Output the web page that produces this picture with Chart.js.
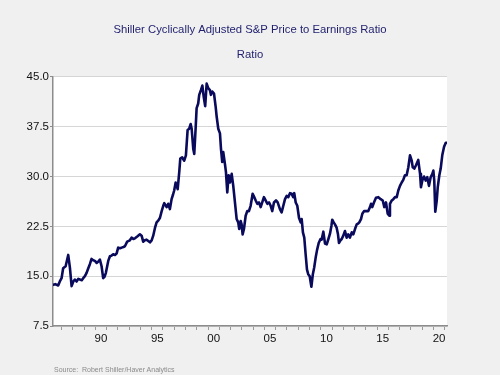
<!DOCTYPE html>
<html><head><meta charset="utf-8">
<script src="https://cdn.jsdelivr.net/npm/chart.js@4.4.1/dist/chart.umd.min.js"></script>
<style>
html,body{margin:0;padding:0;background:#f0f0f0;}
#wrap{position:relative;width:500px;height:375px;}
canvas{display:block;}
#source{position:absolute;left:54px;top:366px;font:7px "Liberation Sans",Arial,sans-serif;color:#8a8a8a;white-space:pre;}
</style></head><body>
<div id="wrap"><canvas id="c" width="500" height="375"></canvas><div id="source">Source:  Robert Shiller/Haver Analytics</div></div>
<script>
const dates = [
1986.25,1986.45,1986.71,1986.88,1987.01,1987.15,1987.37,1987.60,1987.75,1987.90,
1988.05,1988.19,1988.34,1988.50,1988.64,1988.80,1988.93,1989.08,1989.23,1989.38,
1989.52,1989.67,1989.82,1989.97,1990.12,1990.28,1990.41,1990.56,1990.70,1990.82,
1990.94,1991.15,1991.30,1991.45,1991.59,1991.75,1991.89,1992.03,1992.20,1992.34,
1992.50,1992.63,1992.83,1993.07,1993.22,1993.38,1993.52,1993.75,1993.96,1994.11,
1994.25,1994.40,1994.55,1994.70,1994.85,1995.00,1995.14,1995.30,1995.44,1995.60,
1995.74,1995.89,1996.03,1996.12,1996.33,1996.47,1996.62,1996.77,1996.90,1997.00,
1997.13,1997.22,1997.31,1997.45,1997.54,1997.71,1997.80,1997.89,1998.04,1998.19,
1998.33,1998.46,1998.55,1998.69,1998.78,1998.90,1998.99,1999.13,1999.22,1999.37,
1999.50,1999.62,1999.75,1999.88,2000.02,2000.17,2000.26,2000.38,2000.53,2000.68,
2000.77,2000.91,2001.06,2001.15,2001.26,2001.35,2001.50,2001.59,2001.71,2001.83,
2001.95,2002.10,2002.24,2002.39,2002.54,2002.68,2002.77,2002.90,2002.98,2003.07,
2003.19,2003.34,2003.48,2003.63,2003.78,2003.96,2004.10,2004.23,2004.37,2004.52,
2004.67,2004.81,2004.96,2005.11,2005.26,2005.41,2005.56,2005.70,2005.85,2006.03,
2006.18,2006.38,2006.53,2006.68,2006.83,2006.98,2007.12,2007.27,2007.42,2007.56,
2007.65,2007.78,2007.92,2008.07,2008.22,2008.31,2008.42,2008.54,2008.66,2008.78,
2008.89,2009.02,2009.17,2009.30,2009.42,2009.55,2009.68,2009.82,2009.98,2010.08,
2010.23,2010.38,2010.53,2010.68,2010.82,2010.95,2011.02,2011.15,2011.26,2011.41,
2011.53,2011.62,2011.75,2011.86,2012.00,2012.15,2012.30,2012.44,2012.59,2012.75,
2012.89,2013.04,2013.19,2013.30,2013.42,2013.57,2013.69,2013.84,2014.01,2014.22,
2014.37,2014.46,2014.57,2014.72,2014.90,2015.11,2015.32,2015.50,2015.64,2015.79,
2015.94,2016.08,2016.14,2016.30,2016.44,2016.59,2016.74,2016.88,2017.03,2017.18,
2017.32,2017.47,2017.62,2017.77,2017.92,2018.07,2018.16,2018.30,2018.45,2018.65,
2018.81,2018.89,2019.01,2019.16,2019.31,2019.45,2019.60,2019.75,2019.90,2019.99,
2020.07,2020.16,2020.29,2020.38,2020.52,2020.64,2020.78,2020.94,2021.09,2021.20
];
const cape = [
13.7,13.8,13.6,14.3,14.7,16.2,16.5,18.2,16.3,13.5,
14.2,14.5,14.2,14.6,14.5,14.4,14.7,15.0,15.5,16.2,
16.8,17.6,17.4,17.3,17.0,17.2,17.5,16.5,14.7,14.9,
15.5,17.3,18.0,18.1,18.3,18.2,18.4,19.3,19.2,19.3,
19.4,19.5,20.2,20.4,20.8,20.6,20.7,21.0,21.3,21.1,
20.2,20.4,20.5,20.3,20.1,20.4,21.1,22.3,23.1,23.4,
23.8,24.8,25.6,26.0,25.4,25.9,25.1,26.6,27.3,27.9,
29.1,28.6,28.1,30.7,32.7,32.9,32.6,32.4,33.2,37.0,
37.2,37.9,37.2,34.2,33.4,37.2,40.3,41.0,42.3,43.0,
43.7,42.0,40.6,44.0,43.3,43.0,42.3,42.8,42.5,40.5,
39.0,37.2,36.5,34.2,32.2,33.7,31.9,30.7,27.6,30.2,
29.1,30.4,28.6,26.1,23.6,23.1,22.1,23.3,22.8,21.3,
22.1,24.1,24.8,24.8,25.6,27.4,26.9,26.4,25.9,26.1,
25.4,26.1,26.9,26.4,25.9,26.1,25.6,24.8,26.1,26.4,
26.1,25.1,24.6,25.6,26.6,27.1,26.9,27.5,27.4,26.9,
27.5,26.1,25.6,23.8,23.1,23.6,21.6,20.8,18.3,16.0,
15.3,15.0,13.4,15.3,16.3,17.8,19.0,20.0,20.6,20.5,
21.7,19.9,19.8,20.6,21.4,22.6,23.5,23.1,22.8,22.3,
21.3,20.0,20.4,20.6,21.1,21.8,20.8,21.3,20.8,21.6,
21.3,22.1,22.8,22.9,23.1,23.6,24.4,24.8,24.8,24.8,
25.4,25.9,25.4,26.1,26.8,26.9,26.6,26.4,25.4,26.1,
24.4,24.1,25.9,26.4,26.6,26.9,26.9,27.9,28.6,29.1,
29.5,30.2,30.2,31.4,33.2,32.4,31.4,31.2,31.7,32.5,
30.4,28.4,29.4,30.0,29.4,29.9,28.6,29.9,30.4,30.9,
29.4,24.7,26.4,28.4,30.2,31.2,33.2,34.5,35.1,35.1
];
const labelYears = [1990,1995,2000,2005,2010,2015,2020];
const yMin = 7.5, yMax = 45, yStep = 7.5;
const titleText = 'Shiller Cyclically Adjusted S&P Price to Earnings Ratio';
const subtitleText = 'Ratio';

Chart.defaults.font.family = '"Liberation Sans", Arial, sans-serif';

const plotBg = {
  id: 'plotBg',
  beforeDraw(chart) {
    const {ctx, chartArea: a} = chart;
    ctx.save();
    ctx.fillStyle = '#ffffff';
    ctx.fillRect(a.left, a.top, a.right - a.left, a.bottom - a.top);
    ctx.restore();
  }
};

new Chart(document.getElementById('c'), {
  type: 'line',
  data: {
    datasets: [{
      data: dates.map((d, i) => ({x: d, y: cape[i]})),
      borderColor: '#0a0a5c',
      borderWidth: 2.6,
      pointRadius: 0,
      tension: 0,
      borderJoinStyle: 'round',
      borderCapStyle: 'round',
      fill: false
    }]
  },
  options: {
    responsive: false,
    devicePixelRatio: 1,
    animation: false,
    layout: {padding: {left: 0, right: 0, top: 0, bottom: 0}},
    plugins: {
      legend: {display: false},
      tooltip: {enabled: false},
      title: {display: true, text: titleText, color: '#1f1f6e',
              font: {size: 11.3, weight: 'normal'}, padding: {top: 23.2, bottom: 0}},
      subtitle: {display: true, text: subtitleText, color: '#1f1f6e',
                 font: {size: 11.3, weight: 'normal'}, padding: {top: 11.4, bottom: 15.2}}
    },
    scales: {
      x: {
        type: 'linear',
        min: 1986.25,
        max: 2021.2,
        afterFit(s) { s.height = 49; },
        afterBuildTicks(s) {
          const t = [];
          for (let y = 1987; y <= 2021; y++) t.push({value: y});
          labelYears.forEach(y => t.push({value: y + 0.5}));
          t.sort((a, b) => a.value - b.value);
          s.ticks = t;
        },
        ticks: {
          autoSkip: false, maxRotation: 0, minRotation: 0, padding: 2,
          color: '#111111', font: {size: 11.5},
          callback(v) {
            if (Math.abs((v % 1) - 0.5) < 1e-6) {
              const y = Math.floor(v);
              return labelYears.includes(y) ? String(y % 100).padStart(2, '0') : '';
            }
            return '';
          }
        },
        grid: {
          drawOnChartArea: false, drawTicks: true, tickLength: 4,
          tickColor(ctx) { return ctx.tick && Number.isInteger(ctx.tick.value) ? '#9a9a9a' : 'rgba(0,0,0,0)'; }
        },
        border: {display: true, color: '#8c8c8c', width: 1.5}
      },
      y: {
        min: yMin, max: yMax,
        afterFit(s) { s.width = 53; },
        ticks: {stepSize: yStep, padding: 1, color: '#111111', font: {size: 11.5},
                callback: v => Number(v).toFixed(1)},
        grid: {color: '#d6d6d6', lineWidth: 1, drawTicks: true, tickLength: 3, tickColor: '#8c8c8c'},
        border: {display: true, color: '#8c8c8c', width: 1.5}
      },
      yRight: {
        position: 'right',
        min: yMin, max: yMax,
        afterFit(s) { s.width = 53; },
        ticks: {display: false},
        grid: {display: false, drawOnChartArea: false},
        border: {display: false}
      }
    }
  },
  plugins: [plotBg]
});
</script>
</body></html>
